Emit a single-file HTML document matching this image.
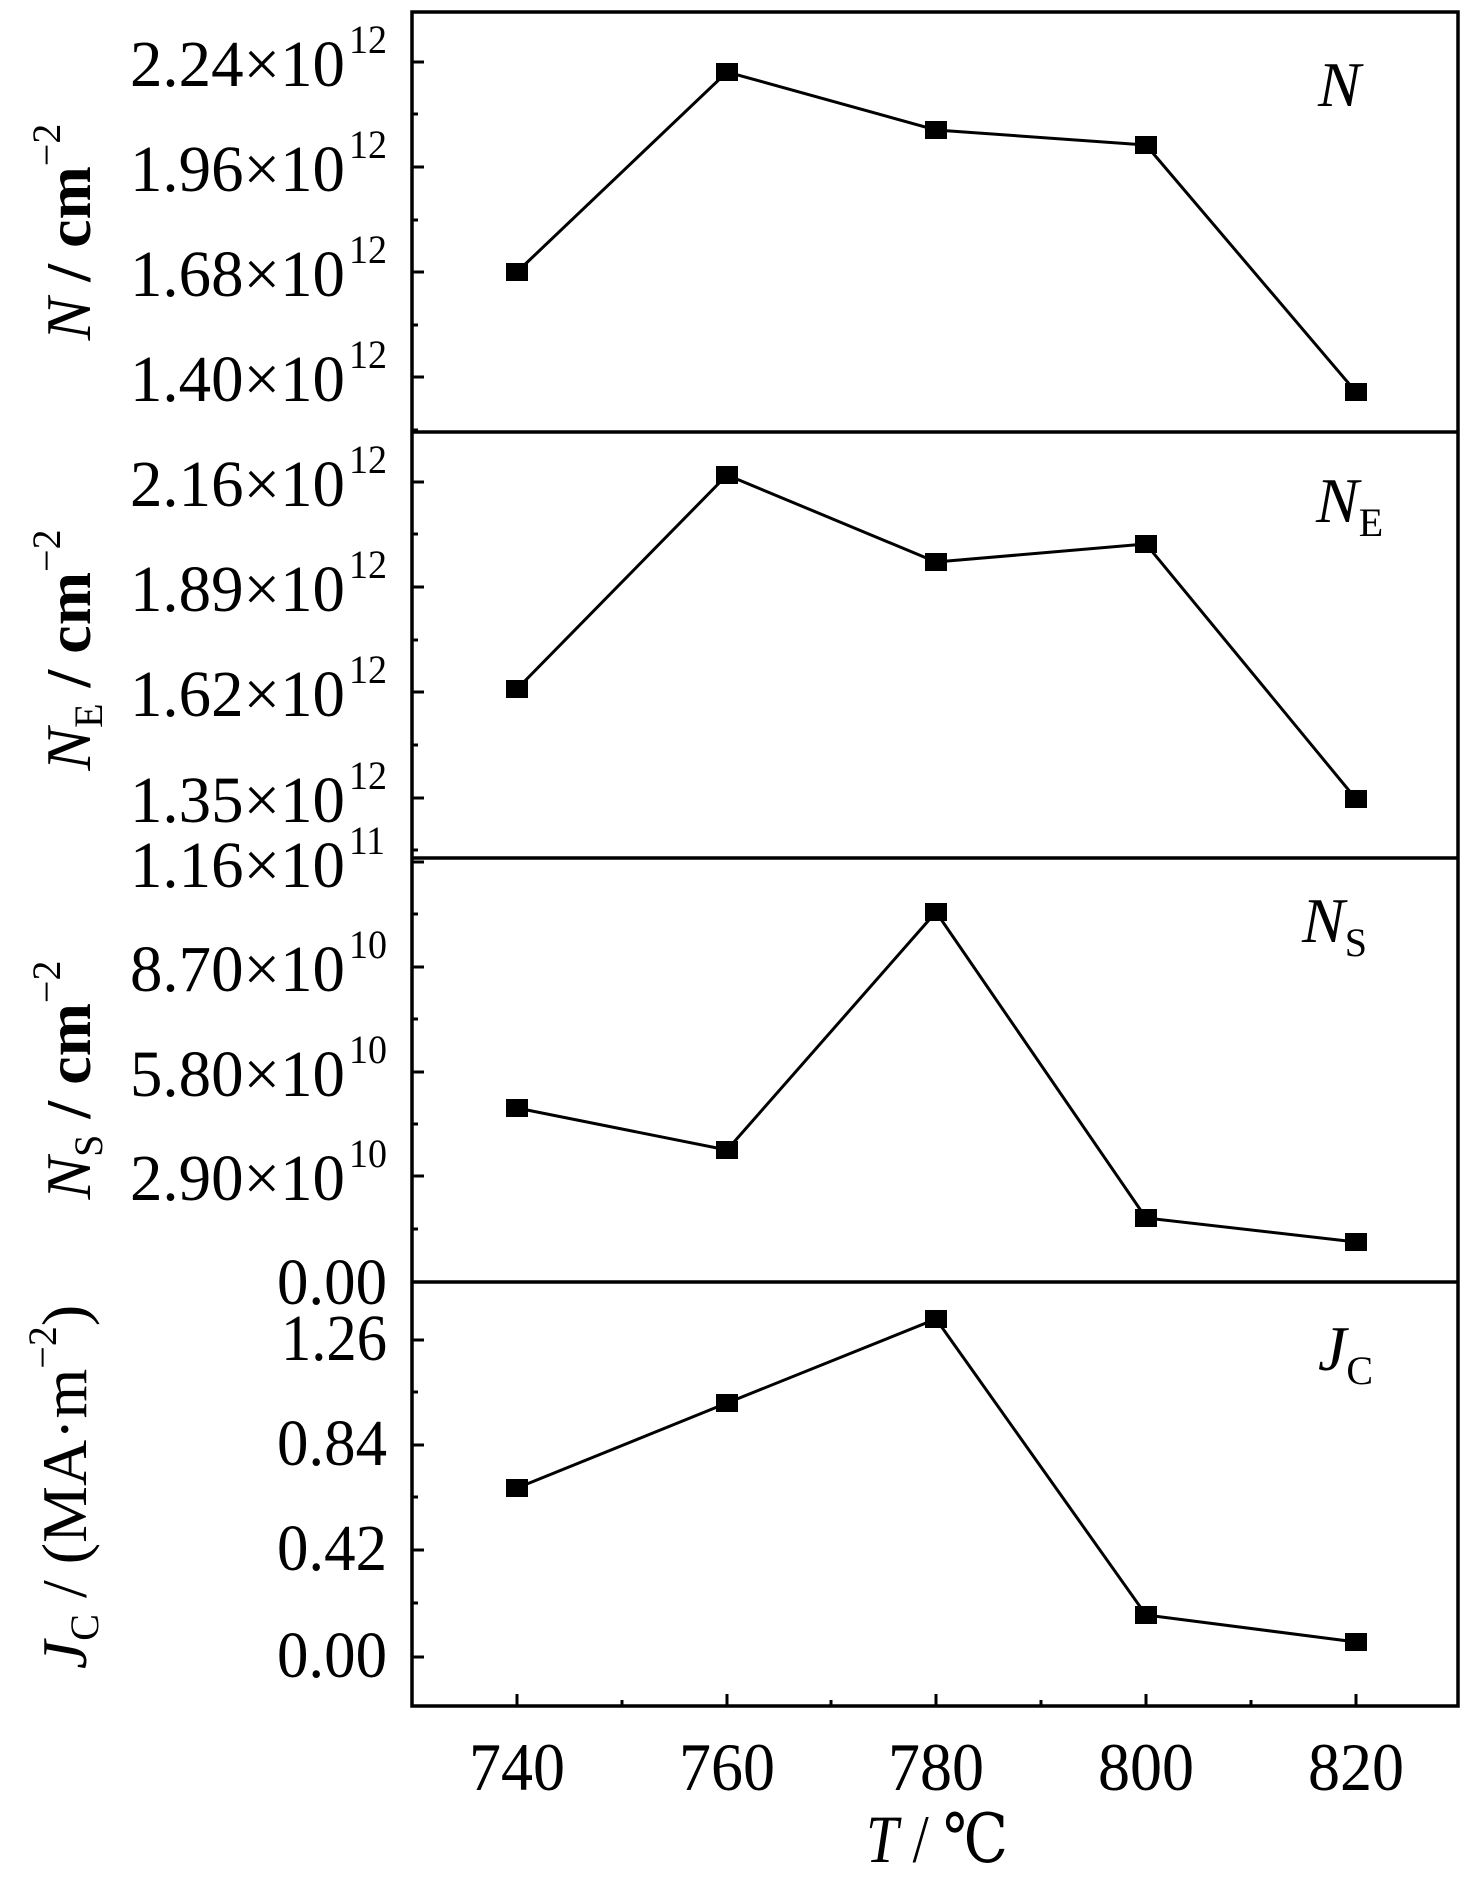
<!DOCTYPE html>
<html><head><meta charset="utf-8"><style>html,body{margin:0;padding:0;background:#fff}svg{display:block}text{font-family:"Liberation Serif","DejaVu Serif",serif}</style></head>
<body>
<svg width="1463" height="1883" viewBox="0 0 1463 1883" xmlns="http://www.w3.org/2000/svg" fill="#000">
<g stroke="#000" stroke-width="3.5" fill="none">
<rect x="412" y="12" width="1046" height="1694"/>
<line x1="412" y1="432" x2="1458" y2="432"/>
<line x1="412" y1="858" x2="1458" y2="858"/>
<line x1="412" y1="1282" x2="1458" y2="1282"/>
</g>
<g stroke="#000" stroke-width="3">
<line x1="412" y1="62" x2="424" y2="62"/><line x1="412" y1="167" x2="424" y2="167"/><line x1="412" y1="272" x2="424" y2="272"/><line x1="412" y1="377" x2="424" y2="377"/>
<line x1="412" y1="114" x2="418" y2="114"/><line x1="412" y1="220" x2="418" y2="220"/><line x1="412" y1="325" x2="418" y2="325"/><line x1="412" y1="430" x2="418" y2="430"/>
<line x1="412" y1="482" x2="424" y2="482"/><line x1="412" y1="587" x2="424" y2="587"/><line x1="412" y1="692" x2="424" y2="692"/><line x1="412" y1="798" x2="424" y2="798"/>
<line x1="412" y1="534" x2="418" y2="534"/><line x1="412" y1="640" x2="418" y2="640"/><line x1="412" y1="745" x2="418" y2="745"/><line x1="412" y1="850" x2="418" y2="850"/>
<line x1="412" y1="862" x2="424" y2="862"/><line x1="412" y1="967" x2="424" y2="967"/><line x1="412" y1="1072" x2="424" y2="1072"/><line x1="412" y1="1176" x2="424" y2="1176"/>
<line x1="412" y1="914" x2="418" y2="914"/><line x1="412" y1="1019" x2="418" y2="1019"/><line x1="412" y1="1124" x2="418" y2="1124"/><line x1="412" y1="1229" x2="418" y2="1229"/>
<line x1="412" y1="1340" x2="424" y2="1340"/><line x1="412" y1="1445" x2="424" y2="1445"/><line x1="412" y1="1550" x2="424" y2="1550"/><line x1="412" y1="1657" x2="424" y2="1657"/>
<line x1="412" y1="1392" x2="418" y2="1392"/><line x1="412" y1="1497" x2="418" y2="1497"/><line x1="412" y1="1603" x2="418" y2="1603"/>
<line x1="517" y1="1706" x2="517" y2="1694"/><line x1="727" y1="1706" x2="727" y2="1694"/><line x1="936" y1="1706" x2="936" y2="1694"/><line x1="1146" y1="1706" x2="1146" y2="1694"/><line x1="1356" y1="1706" x2="1356" y2="1694"/>
<line x1="622" y1="1706" x2="622" y2="1700"/><line x1="831" y1="1706" x2="831" y2="1700"/><line x1="1041" y1="1706" x2="1041" y2="1700"/><line x1="1251" y1="1706" x2="1251" y2="1700"/>
</g>
<g stroke="#000" stroke-width="3" fill="none">
<polyline points="517,272 727,72 936,130 1146,145 1356,392"/>
<polyline points="517,689 727,475 936,562 1146,544 1356,799"/>
<polyline points="517,1108 727,1150 936,912 1146,1218 1356,1242"/>
<polyline points="517,1488 727,1403 936,1319 1146,1615 1356,1642"/>
</g>
<g>
<rect x="506" y="263" width="22" height="18"/><rect x="716" y="63" width="22" height="18"/><rect x="925" y="121" width="22" height="18"/><rect x="1135" y="136" width="22" height="18"/><rect x="1345" y="383" width="22" height="18"/>
<rect x="506" y="680" width="22" height="18"/><rect x="716" y="466" width="22" height="18"/><rect x="925" y="553" width="22" height="18"/><rect x="1135" y="535" width="22" height="18"/><rect x="1345" y="790" width="22" height="18"/>
<rect x="506" y="1099" width="22" height="18"/><rect x="716" y="1141" width="22" height="18"/><rect x="925" y="903" width="22" height="18"/><rect x="1135" y="1209" width="22" height="18"/><rect x="1345" y="1233" width="22" height="18"/>
<rect x="506" y="1479" width="22" height="18"/><rect x="716" y="1394" width="22" height="18"/><rect x="925" y="1310" width="22" height="18"/><rect x="1135" y="1606" width="22" height="18"/><rect x="1345" y="1633" width="22" height="18"/>
</g>
<g font-size="66">
<text x="130" y="86" textLength="215" lengthAdjust="spacingAndGlyphs">2.24×10</text>
<text x="130" y="191" textLength="215" lengthAdjust="spacingAndGlyphs">1.96×10</text>
<text x="130" y="296" textLength="215" lengthAdjust="spacingAndGlyphs">1.68×10</text>
<text x="130" y="401" textLength="215" lengthAdjust="spacingAndGlyphs">1.40×10</text>
<text x="130" y="506" textLength="215" lengthAdjust="spacingAndGlyphs">2.16×10</text>
<text x="130" y="611" textLength="215" lengthAdjust="spacingAndGlyphs">1.89×10</text>
<text x="130" y="716" textLength="215" lengthAdjust="spacingAndGlyphs">1.62×10</text>
<text x="130" y="822" textLength="215" lengthAdjust="spacingAndGlyphs">1.35×10</text>
<text x="130" y="887" textLength="215" lengthAdjust="spacingAndGlyphs">1.16×10</text>
<text x="130" y="991" textLength="215" lengthAdjust="spacingAndGlyphs">8.70×10</text>
<text x="130" y="1096" textLength="215" lengthAdjust="spacingAndGlyphs">5.80×10</text>
<text x="130" y="1200" textLength="215" lengthAdjust="spacingAndGlyphs">2.90×10</text>
<text x="277" y="1304" textLength="110" lengthAdjust="spacingAndGlyphs">0.00</text>
<text x="281" y="1360" textLength="106" lengthAdjust="spacingAndGlyphs">1.26</text>
<text x="277" y="1465" textLength="110" lengthAdjust="spacingAndGlyphs">0.84</text>
<text x="277" y="1570" textLength="110" lengthAdjust="spacingAndGlyphs">0.42</text>
<text x="277" y="1677" textLength="110" lengthAdjust="spacingAndGlyphs">0.00</text>
</g>
<g font-size="40">
<text x="349" y="53" textLength="38" lengthAdjust="spacingAndGlyphs">12</text><text x="349" y="158" textLength="38" lengthAdjust="spacingAndGlyphs">12</text><text x="349" y="263" textLength="38" lengthAdjust="spacingAndGlyphs">12</text><text x="349" y="368" textLength="38" lengthAdjust="spacingAndGlyphs">12</text>
<text x="349" y="473" textLength="38" lengthAdjust="spacingAndGlyphs">12</text><text x="349" y="578" textLength="38" lengthAdjust="spacingAndGlyphs">12</text><text x="349" y="683" textLength="38" lengthAdjust="spacingAndGlyphs">12</text><text x="349" y="789" textLength="38" lengthAdjust="spacingAndGlyphs">12</text>
<text x="349" y="854" textLength="36" lengthAdjust="spacingAndGlyphs">11</text><text x="349" y="958" textLength="38" lengthAdjust="spacingAndGlyphs">10</text><text x="349" y="1063" textLength="38" lengthAdjust="spacingAndGlyphs">10</text><text x="349" y="1167" textLength="38" lengthAdjust="spacingAndGlyphs">10</text>
</g>
<g font-size="68">
<text x="469" y="1790" textLength="96" lengthAdjust="spacingAndGlyphs">740</text>
<text x="679" y="1790" textLength="96" lengthAdjust="spacingAndGlyphs">760</text>
<text x="888" y="1790" textLength="96" lengthAdjust="spacingAndGlyphs">780</text>
<text x="1098" y="1790" textLength="96" lengthAdjust="spacingAndGlyphs">800</text>
<text x="1308" y="1790" textLength="96" lengthAdjust="spacingAndGlyphs">820</text>
<text x="866" y="1862" textLength="142" lengthAdjust="spacingAndGlyphs"><tspan font-style="italic">T</tspan> / ℃</text>
</g>
<g font-size="64">
<text x="1318" y="106" font-style="italic">N</text>
<text x="1316" y="522"><tspan font-style="italic">N</tspan><tspan font-size="40" dy="14">E</tspan></text>
<text x="1302" y="942"><tspan font-style="italic">N</tspan><tspan font-size="40" dy="14">S</tspan></text>
<text x="1318" y="1370"><tspan font-style="italic">J</tspan><tspan font-size="40" dy="14">C</tspan></text>
</g>
<g font-size="64" text-anchor="middle">
<text transform="translate(90,232) rotate(-90)"><tspan font-style="italic">N</tspan><tspan font-weight="bold"> / cm</tspan><tspan font-size="40" dy="-30">−2</tspan></text>
<text transform="translate(90,650) rotate(-90)"><tspan font-style="italic">N</tspan><tspan font-size="40" dy="12">E</tspan><tspan font-weight="bold" dy="-12"> / cm</tspan><tspan font-size="40" dy="-30">−2</tspan></text>
<text transform="translate(90,1080) rotate(-90)"><tspan font-style="italic">N</tspan><tspan font-size="40" dy="12">S</tspan><tspan font-weight="bold" dy="-12"> / cm</tspan><tspan font-size="40" dy="-30">−2</tspan></text>
<text transform="translate(86,1487) rotate(-90)"><tspan font-style="italic">J</tspan><tspan font-size="40" dy="12">C</tspan><tspan dy="-12"> / (MA·m</tspan><tspan font-size="40" dy="-30">−2</tspan><tspan dy="30">)</tspan></text>
</g>
</svg>
</body></html>
